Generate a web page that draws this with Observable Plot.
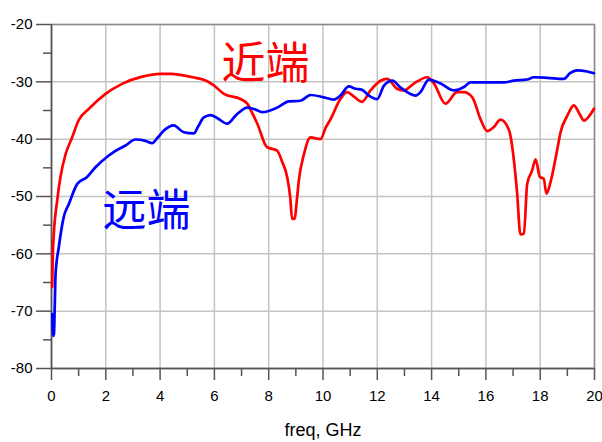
<!DOCTYPE html>
<html>
<head>
<meta charset="utf-8">
<script src="https://cdn.jsdelivr.net/npm/d3@7"></script>
<script src="https://cdn.jsdelivr.net/npm/@observablehq/plot@0.6"></script>
<style>
  html, body { margin: 0; padding: 0; background: #fff; }
  #chart svg { display: block; }
</style>
</head>
<body>
<div id="chart"></div>
<script>
// Near-end (近端) crosstalk, red
const redFreq = [0.025,0.05,0.086,0.21,0.33,0.52,0.76,1.0,1.38,1.99,2.6,3.34,4.01,4.4,4.75,5.2,5.61,5.98,6.35,6.96,7.21,7.4,7.58,7.94,8.31,8.5,8.68,8.8,8.86,8.95,9.05,9.11,9.3,9.54,9.91,10.1,10.28,10.64,10.89,11.14,11.44,11.75,12.12,12.36,12.73,12.98,13.35,13.84,14.09,14.51,14.94,15.19,15.5,15.8,16.05,16.29,16.54,16.85,17.03,17.15,17.27,17.4,17.52,17.70,17.83,17.99,18.13,18.23,18.38,18.62,18.75,19.0,19.24,19.45,19.61,19.8,19.98];
const redDb   = [-65.8,-60,-56.5,-50.7,-46.6,-42.6,-39.7,-36.7,-34.7,-32.1,-30.35,-29.1,-28.6,-28.6,-28.8,-29.2,-29.65,-30.6,-32.1,-33.0,-33.8,-35.5,-37.3,-41.4,-42.0,-44,-46.6,-50.5,-53.9,-53.9,-50,-47.2,-42.6,-39.7,-40.0,-38,-36.5,-33.0,-31.8,-32.6,-33.5,-31.5,-29.8,-29.5,-31.2,-31.5,-30.3,-29.2,-30.3,-33.8,-31.8,-31.8,-32.7,-36.5,-38.6,-37.9,-36.6,-38.4,-43.6,-49.4,-56.6,-56.5,-47.8,-45.5,-43.5,-46.6,-46.9,-49.5,-47.5,-42.0,-38.8,-35.9,-34.1,-35.6,-36.75,-36.0,-34.7];
// Far-end (远端) crosstalk, blue
const blueFreq = [0.03,0.06,0.09,0.12,0.15,0.27,0.45,0.64,0.95,1.31,1.62,2.11,2.3,2.73,3.09,3.46,3.71,3.9,4.14,4.5,4.87,5.24,5.4,5.61,5.86,6.1,6.47,6.8,7.21,7.5,7.76,8.31,8.74,9.17,9.54,10.03,10.4,10.64,10.95,11.2,11.44,11.69,12.0,12.24,12.55,12.86,13.41,13.59,13.9,14.33,14.82,15.19,15.43,15.8,16.29,16.66,17.03,17.52,17.77,18.26,18.87,19.1,19.36,19.73,19.98];
const blueDb   = [-70.5,-74.3,-74.0,-69,-63.5,-58.8,-53.6,-51.3,-47.8,-46.6,-44.9,-42.85,-42.2,-41.1,-40.06,-40.3,-40.7,-39.8,-38.5,-37.6,-38.8,-39.0,-37.8,-36.2,-35.8,-36.3,-37.3,-35.8,-34.5,-34.8,-35.3,-34.5,-33.4,-33.3,-32.3,-32.7,-33.1,-32.4,-30.8,-31.2,-31.4,-32.4,-33.0,-30.7,-29.8,-31.0,-32.4,-31.8,-29.6,-30.3,-31.5,-30.9,-30.1,-30.1,-30.1,-30.1,-29.8,-29.6,-29.2,-29.3,-29.5,-28.5,-28.0,-28.2,-28.5];

const xMajor = [0,2,4,6,8,10,12,14,16,18,20];
const xMinor = [1,3,5,7,9,11,13,15,17,19];
const yMajor = [-80,-70,-60,-50,-40,-30,-20];
const yMinor = [-75,-65,-55,-45,-35,-25];

const labelText = ["近端","远端"];
const labelFreq = [7.88, 3.5];
const labelDb   = [-27.0, -52.6];
const labelColor = ["#ff0000", "#0000ff"];

const red = redFreq.map((f,i) => ({f, db: redDb[i]}));
const blue = blueFreq.map((f,i) => ({f, db: blueDb[i]}));
const labels = labelText.map((t,i) => ({t, f: labelFreq[i], db: labelDb[i], c: labelColor[i]}));

const chart = Plot.plot({
  width: 602,
  height: 442,
  marginLeft: 51,
  marginRight: 8,
  marginTop: 24,
  marginBottom: 74,
  style: {fontFamily: "'Liberation Sans', Arial, sans-serif", fontSize: "15px", color: "#000", background: "#fff"},
  x: {domain: [0,20]},
  y: {domain: [-80,-20]},
  marks: [
    Plot.gridX(xMajor, {stroke: "#c4c4c4", strokeOpacity: 1, strokeWidth: 1.5}),
    Plot.gridY(yMajor, {stroke: "#c4c4c4", strokeOpacity: 1, strokeWidth: 1.5}),
    Plot.frame({stroke: "#8a8a8a", strokeWidth: 1.5}),
    Plot.axisY(yMajor, {tickSize: 15, tickPadding: 4, stroke: "#555", strokeWidth: 1.5, label: null, fontSize: 15, tickFormat: d => String(d).replace("−","-")}),
    Plot.axisY(yMinor, {tickSize: 8, stroke: "#555", strokeWidth: 1.5, text: null, label: null}),
    Plot.axisX(xMajor, {tickSize: 12, tickPadding: 10, stroke: "#555", strokeWidth: 1.5, label: null, fontSize: 15}),
    Plot.axisX(xMinor, {tickSize: 8, stroke: "#555", strokeWidth: 1.5, text: null, label: null}),
    Plot.ruleY([-80], {stroke: "#555", strokeWidth: 1.5}),
    Plot.ruleX([0], {stroke: "#555", strokeWidth: 1.5}),
    Plot.line(red, {x: "f", y: "db", stroke: "#ff0000", strokeWidth: 2.7, curve: "monotone-x"}),
    Plot.line(blue, {x: "f", y: "db", stroke: "#0000ff", strokeWidth: 2.7, curve: "monotone-x"}),
    Plot.text(labels, {x: "f", y: "db", text: "t", fill: "c", fontSize: 44, fontFamily: "'Noto Sans CJK SC'", fontWeight: 400}),
    Plot.text(["freq, GHz"], {frameAnchor: "bottom", dy: 67, fontSize: 18, fill: "#000"})
  ]
});
document.getElementById("chart").appendChild(chart);
</script>
</body>
</html>
